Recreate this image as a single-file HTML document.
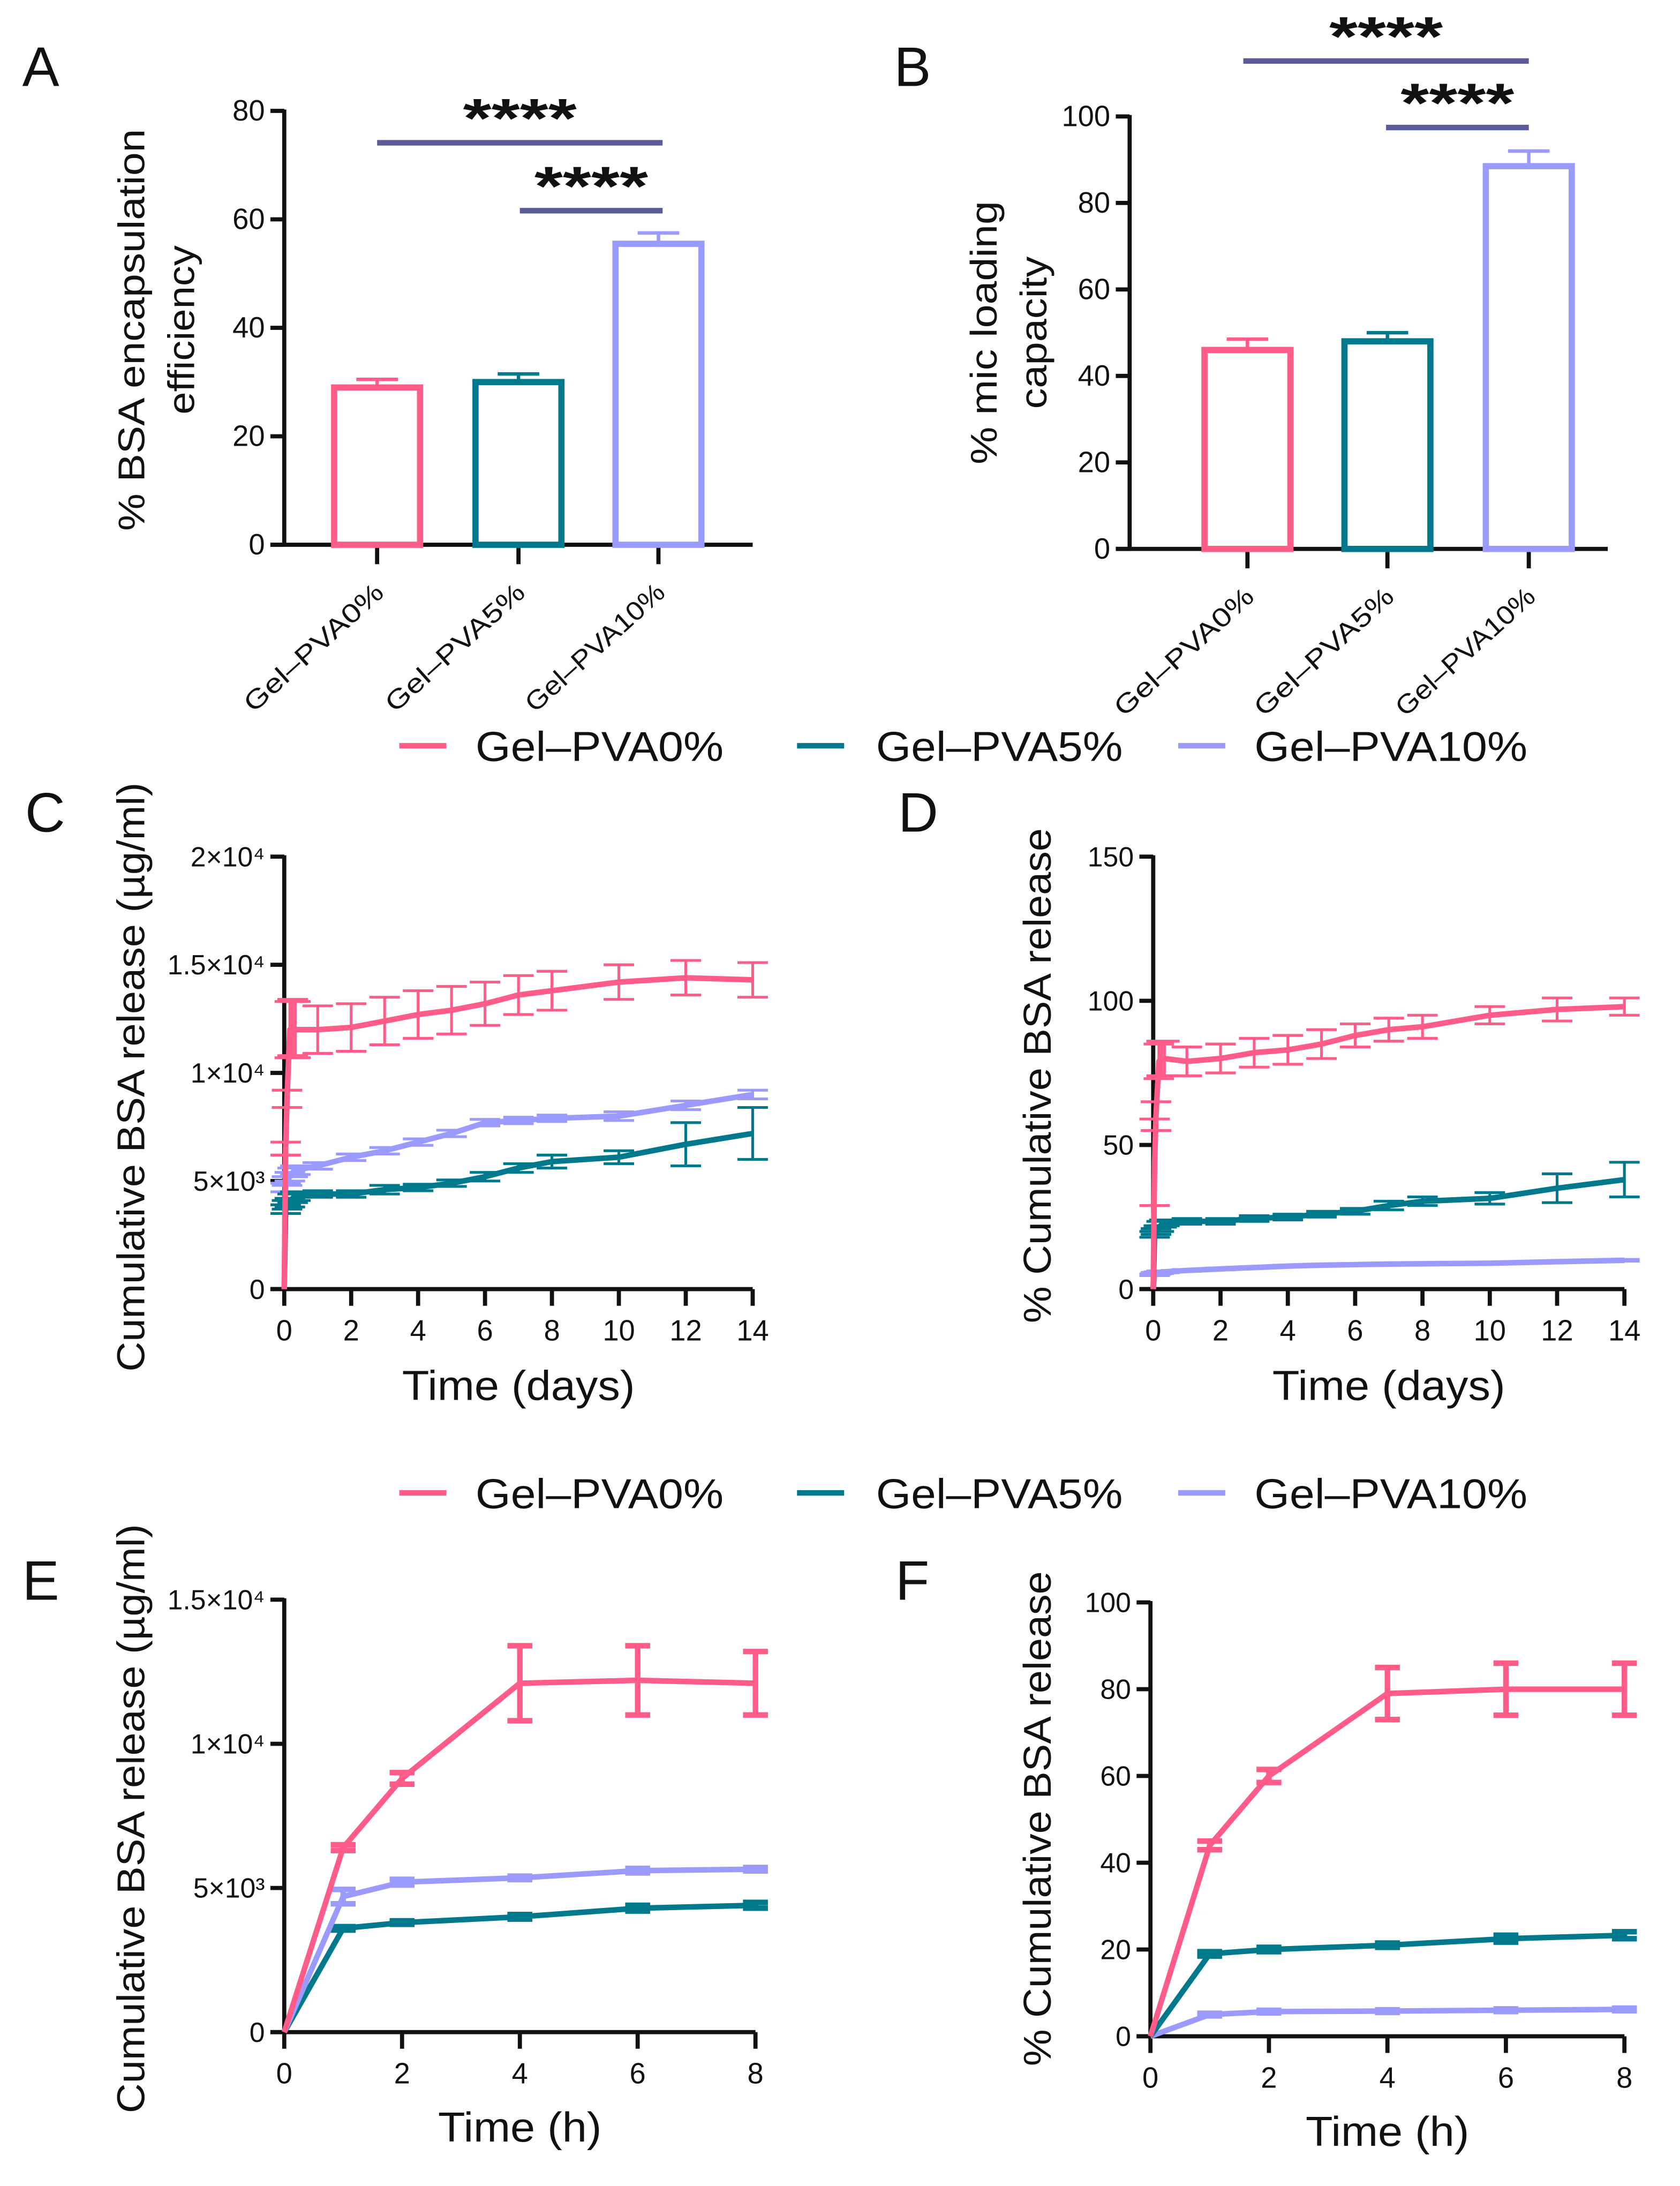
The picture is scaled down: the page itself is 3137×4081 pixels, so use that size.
<!DOCTYPE html>
<html><head><meta charset="utf-8"><style>
html,body{margin:0;padding:0;background:#fff;}
svg{display:block;}
text{font-family:"Liberation Sans",Arial,sans-serif;fill:#111;}
</style></head>
<body>
<svg id="fig" width="3137" height="4081" viewBox="0 0 1212 1577" xmlns="http://www.w3.org/2000/svg"></svg>
<script>
// ---------- DATA ----------
const groups = ["Gel–PVA0%","Gel–PVA5%","Gel–PVA10%"];
const colors = ["#ff5c8a","#00798c","#9a9aff"];
const effValues = [29, 30, 55.5];
const effErr = [1.5, 1.5, 2];
const capValues = [46, 48, 88.5];
const capErr = [2.5, 2, 3.5];
const dayTimes = [0,0.042,0.083,0.167,0.25,0.333,1,2,3,4,5,6,7,8,10,12,14];
const cMass0 = [0,6500,8800,12000,12100,12000,12000,12100,12400,12700,12900,13200,13600,13800,14200,14400,14300];
const cMass0Err = [0,300,400,1300,1300,1300,1100,1100,1100,1100,1100,1000,900,900,800,800,800];
const cMass5 = [0,3700,3900,4000,4200,4300,4400,4400,4600,4700,4900,5200,5600,5900,6100,6700,7200];
const cMass5Err = [0,200,200,200,200,200,150,150,200,150,150,200,200,300,300,1000,1200];
const cMass10 = [0,4700,5000,5200,5400,5500,5700,6100,6400,6800,7200,7700,7800,7900,8000,8500,9000];
const cMass10Err = [0,200,200,200,200,200,150,150,150,150,150,150,150,150,200,200,200];
const dPct0 = [0,44,60,79,80,80,79,80,82,83,85,88,90,91,95,97,98];
const dPct0Err = [0,15,5,6,6,6,5,5,5,5,5,4,4,4,3,4,3];
const dPct5 = [0,19,20,21,22.5,23,23.5,23.5,24.5,25,26,27,29,30.5,31.5,35,38];
const dPct5Err = [0,1,1,1,1,1,1,1,1,1,1,1,1.5,1.5,2,5,6];
const dPct10 = [0,5,5.5,5.7,6,6,6.5,7,7.5,8,8.3,8.5,8.7,8.8,9,9.5,10];
const dPct10Err = [0,0.3,0.3,0.3,0.3,0.3,0.3,0.3,0.3,0.3,0.3,0.3,0.3,0.3,0.3,0.3,0.3];
const hourTimes = [0,1,2,4,6,8];
const eMass0 = [0,6400,8800,12100,12200,12100];
const eMass0Err = [0,100,200,1300,1200,1100];
const eMass5 = [0,3600,3800,4000,4300,4400];
const eMass5Err = [0,60,60,80,100,100];
const eMass10 = [0,4700,5200,5350,5600,5650];
const eMass10Err = [0,250,100,60,80,60];
const fPct0 = [0,44,60,79,80,80];
const fPct0Err = [0,1,1.5,6,6,6];
const fPct5 = [0,19,20,21,22.5,23.3];
const fPct5Err = [0,0.5,0.5,0.5,0.8,0.8];
const fPct10 = [0,5,5.7,5.8,6,6.2];
const fPct10Err = [0,0.3,0.3,0.3,0.3,0.3];
const massTicks2 = ["0","5×10³","1×10⁴","1.5×10⁴","2×10⁴"];
const massTicks15 = ["0","5×10³","1×10⁴","1.5×10⁴"];

// ---------- HELPERS ----------
const svg = document.getElementById('fig');
const NS = "http://www.w3.org/2000/svg";
function mk(tag, attrs, parent){
  const e = document.createElementNS(NS, tag);
  for (const k in attrs) e.setAttribute(k, attrs[k]);
  (parent||svg).appendChild(e);
  return e;
}
function txt(s, x, y, size, anchor, parent, rot, len){
  const t = mk('text', {x:x, y:y, 'font-size':size, 'text-anchor':anchor||'middle'}, parent);
  if (rot) t.setAttribute('transform', `rotate(${rot} ${x} ${y})`);
  if (len){ t.setAttribute('textLength', len); t.setAttribute('lengthAdjust','spacingAndGlyphs'); }
  t.textContent = s;
  return t;
}
function line(x1,y1,x2,y2,stroke,w,parent){
  return mk('line',{x1,y1,x2,y2,stroke,'stroke-width':w},parent);
}

function axesY(g, x0, yBot, yTop, xEnd, n, labels, fs){
  const a = line(x0, yBot, x0, yTop-1, '#111', 3, g);
  
  
  for (let i=0;i<n;i++){
    const y = yBot + (yTop-yBot)*i/(n-1);
    line(x0-10, y, x0, y, '#111', 3, g);
    const t = txt(labels[i], x0-14, y+7, fs||19, 'end', g);
    
    
  }
  const xa = line(x0-10, yBot, xEnd, yBot, '#111', 3, g);
  
  
}

function barPanel(cfg){
  const g = mk('g', {});
  
  
  const sy = v => cfg.yBot - (cfg.yBot-cfg.yTop)*v/cfg.ymax;
  const labels = []; for(let i=0;i<=cfg.ymax;i+=cfg.step) labels.push(String(i));
  axesY(g, cfg.x0, cfg.yBot, cfg.yTop, cfg.xEnd, labels.length, labels, 21);
  cfg.vals.forEach((v,i)=>{
    const cx = cfg.centers[i];
    line(cx, cfg.yBot, cx, cfg.yBot+14, '#111', 3, g);
    const r = mk('rect',{x:cx-31, y:sy(v), width:62, height:cfg.yBot-sy(v), fill:'none', stroke:colors[i], 'stroke-width':4.5}, g);
    
    
    line(cx, sy(v), cx, sy(v+cfg.err[i]), colors[i], 2.5, g);
    line(cx-15, sy(v+cfg.err[i]), cx+15, sy(v+cfg.err[i]), colors[i], 2.5, g);
    const t = txt(groups[i], cx+6, cfg.yBot+36, 19, 'end', g, -42, 128);
    
    
  });
  cfg.sig.forEach(s=>{
    line(s[0], s[2], s[1], s[2], '#5b5b99', 4, g);
    const t = txt('****', (s[0]+s[1])/2, s[2]-4, 40, 'middle', g, 0, 82);
    t.setAttribute('font-weight','bold');
    
    
  });
  cfg.title.forEach((l,k)=>{
    const t = txt(l, cfg.titleX[k], cfg.titleY, 27, 'middle', g, -90, cfg.titleLen[k]);
    
    
  });
  const L = txt(cfg.letter, cfg.letterX, cfg.letterY, 40, 'start', g);
  
  
}

function linePanel(cfg){
  const g = mk('g', {});
  
  
  const sx = t => cfg.x0 + (cfg.xEnd-cfg.x0)*t/cfg.xmax;
  const sy = v => cfg.yBot - (cfg.yBot-cfg.yTop)*v/cfg.ymax;
  axesY(g, cfg.x0, cfg.yBot, cfg.yTop, cfg.xEnd, cfg.ylabels.length, cfg.ylabels, 20);
  cfg.xticks.forEach(t=>{
    line(sx(t), cfg.yBot, sx(t), cfg.yBot+12, '#111', 3, g);
    const l = txt(String(t), sx(t), cfg.yBot+37, 21, 'middle', g);
    
    
  });
  cfg.series.forEach((s,i)=>{
    const col = colors[s.c];
    s.err.forEach((e,j)=>{
      if (!e) return;
      const x = sx(cfg.times[j]);
      line(x, sy(s.v[j]-e), x, sy(s.v[j]+e), col, cfg.ew, g);
      line(x-cfg.cap, sy(s.v[j]-e), x+cfg.cap, sy(s.v[j]-e), col, cfg.ew, g);
      line(x-cfg.cap, sy(s.v[j]+e), x+cfg.cap, sy(s.v[j]+e), col, cfg.ew, g);
    });
    const pts = s.v.map((v,j)=>sx(cfg.times[j]).toFixed(1)+','+sy(v).toFixed(1)).join(' ');
    const p = mk('polyline',{points:pts, fill:'none', stroke:col, 'stroke-width':4, 'stroke-linejoin':'round'}, g);
    
    
  });
  const xt = txt(cfg.xtitle, (cfg.x0+cfg.xEnd)/2, cfg.xtitleY, 30, 'middle', g, 0, cfg.xtitleLen);
  
  
  const yt = txt(cfg.ytitle, cfg.ytitleX, cfg.ytitleY, 28, 'middle', g, -90, cfg.ytitleLen);
  
  
  const L = txt(cfg.letter, cfg.letterX, cfg.letterY, 40, 'start', g);
  
  
}

function legend(y){
  const g = mk('g',{});
  
  
  const xs = [[288,343,179],[575,632,178],[850,905,197]];
  groups.forEach((n,i)=>{
    line(xs[i][0], y, xs[i][0]+34, y, colors[i], 4, g);
    const t = txt(n, xs[i][1], y+11, 30, 'start', g, 0, xs[i][2]);
    
    
  });
}

// ---------- DRAW ----------
barPanel({name:'panel-a', letter:'A', letterX:16, letterY:62, x0:205, yBot:393, yTop:80, xEnd:543, ymax:80, step:20,
  centers:[272,374,475], vals:effValues, err:effErr, sig:[[272,478,103],[375,478,152]],
  title:['% BSA encapsulation','efficiency'], titleX:[104,140], titleY:238, titleLen:[290,122]});
barPanel({name:'panel-b', letter:'B', letterX:645, letterY:62, x0:815, yBot:396, yTop:84, xEnd:1160, ymax:100, step:20,
  centers:[900,1001,1103], vals:capValues, err:capErr, sig:[[897,1103,44],[1000,1103,92]],
  title:['% mic loading','capacity'], titleX:[719,755], titleY:240, titleLen:[190,110]});
legend(538);
linePanel({name:'panel-c', letter:'C', letterX:18, letterY:600, x0:205, xEnd:543, yBot:930, yTop:618, xmax:14, ymax:20000,
  ylabels:massTicks2, xticks:[0,2,4,6,8,10,12,14], times:dayTimes, cap:11, ew:2,
  series:[{c:2,v:cMass10,err:cMass10Err},{c:1,v:cMass5,err:cMass5Err},{c:0,v:cMass0,err:cMass0Err}],
  xtitle:'Time (days)', xtitleY:1010, xtitleLen:168, ytitle:'Cumulative BSA release (µg/ml)', ytitleX:104, ytitleY:777, ytitleLen:425});
linePanel({name:'panel-d', letter:'D', letterX:648, letterY:600, x0:832, xEnd:1172, yBot:930, yTop:618, xmax:14, ymax:150,
  ylabels:["0","50","100","150"], xticks:[0,2,4,6,8,10,12,14], times:dayTimes, cap:11, ew:2,
  series:[{c:2,v:dPct10,err:dPct10Err},{c:1,v:dPct5,err:dPct5Err},{c:0,v:dPct0,err:dPct0Err}],
  xtitle:'Time (days)', xtitleY:1010, xtitleLen:168, ytitle:'% Cumulative BSA release', ytitleX:758, ytitleY:776, ytitleLen:357});
legend(1077);
linePanel({name:'panel-e', letter:'E', letterX:16, letterY:1154, x0:205, xEnd:545, yBot:1466, yTop:1154, xmax:8, ymax:15000,
  ylabels:massTicks15, xticks:[0,2,4,6,8], times:hourTimes, cap:9, ew:4,
  series:[{c:1,v:eMass5,err:eMass5Err},{c:2,v:eMass10,err:eMass10Err},{c:0,v:eMass0,err:eMass0Err}],
  xtitle:'Time (h)', xtitleY:1545, xtitleLen:118, ytitle:'Cumulative BSA release (µg/ml)', ytitleX:104, ytitleY:1312, ytitleLen:425});
linePanel({name:'panel-f', letter:'F', letterX:646, letterY:1154, x0:830, xEnd:1172, yBot:1469, yTop:1156, xmax:8, ymax:100,
  ylabels:["0","20","40","60","80","100"], xticks:[0,2,4,6,8], times:hourTimes, cap:9, ew:4,
  series:[{c:2,v:fPct10,err:fPct10Err},{c:1,v:fPct5,err:fPct5Err},{c:0,v:fPct0,err:fPct0Err}],
  xtitle:'Time (h)', xtitleY:1548, xtitleLen:118, ytitle:'% Cumulative BSA release', ytitleX:758, ytitleY:1312, ytitleLen:357});
</script>
</body></html>
